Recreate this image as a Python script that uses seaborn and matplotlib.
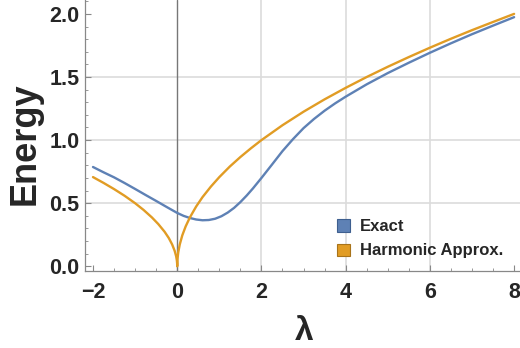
import numpy as np
import pandas as pd
import matplotlib
matplotlib.use("Agg")
import matplotlib.pyplot as plt
from matplotlib.patches import Patch
from matplotlib.ticker import MultipleLocator
import seaborn as sns

# Exact ground-state energy
lam_exact = [-2.0, -1.75, -1.5, -1.25, -1.0, -0.75, -0.5, -0.25, 0.0,
             0.15, 0.3, 0.45, 0.6, 0.75, 0.9, 1.05, 1.2, 1.35, 1.5, 1.65,
             1.8, 2.0, 2.25, 2.5, 2.75, 3.0, 3.25, 3.5, 3.75, 4.0, 4.5,
             5.0, 5.5, 6.0, 6.5, 7.0, 7.5, 8.0]
energy_exact = [0.787, 0.745, 0.705, 0.66, 0.613, 0.565, 0.518, 0.47, 0.423,
                0.40, 0.383, 0.371, 0.365, 0.367, 0.377, 0.397, 0.426, 0.463,
                0.509, 0.561, 0.618, 0.70, 0.806, 0.913, 1.008, 1.095, 1.168,
                1.233, 1.291, 1.344, 1.442, 1.531, 1.613, 1.692, 1.767,
                1.839, 1.907, 1.974]

# Harmonic approximation
lam_harm = [-2.0, -1.75, -1.5, -1.25, -1.0, -0.8, -0.6, -0.45, -0.3, -0.2,
            -0.12, -0.06, -0.025, -0.008, -0.002, 0.0, 0.002, 0.008, 0.025,
            0.06, 0.12, 0.2, 0.3, 0.45, 0.6, 0.8, 1.0, 1.25, 1.5, 1.75, 2.0,
            2.5, 3.0, 3.5, 4.0, 4.5, 5.0, 5.5, 6.0, 6.5, 7.0, 7.5, 8.0]
energy_harm = [0.707, 0.661, 0.612, 0.559, 0.5, 0.447, 0.387, 0.335, 0.274,
               0.224, 0.173, 0.122, 0.079, 0.045, 0.022, 0.0, 0.032, 0.063,
               0.112, 0.173, 0.245, 0.316, 0.387, 0.474, 0.548, 0.632, 0.707,
               0.791, 0.866, 0.935, 1.0, 1.118, 1.225, 1.323, 1.414, 1.5,
               1.581, 1.658, 1.732, 1.803, 1.871, 1.936, 2.0]

series_names = ["Exact", "Harmonic Approx."]
colors = ["#5E81B5", "#E19C24"]
edge_colors = ["#3E5F8F", "#A8731A"]

sns.set_theme(style="white")
plt.rcParams["font.family"] = ["Liberation Sans", "DejaVu Sans"]
plt.rcParams["font.weight"] = "bold"

fig = plt.figure(figsize=(5.2, 3.48), dpi=100)
ax = fig.add_axes([85 / 520, 77 / 348, 435 / 520, 271 / 348])

# grid and origin line
for gx in [2, 4, 6]:
    ax.axvline(gx, color="#dcdcdc", lw=1.2, zorder=0)
for gy in [0.5, 1.0, 1.5]:
    ax.axhline(gy, color="#dcdcdc", lw=1.2, zorder=0)
ax.axvline(0, color="#777777", lw=1.0, zorder=1)

df_exact = pd.DataFrame({"lam": lam_exact, "E": energy_exact})
df_harm = pd.DataFrame({"lam": lam_harm, "E": energy_harm})
sns.lineplot(data=df_exact, x="lam", y="E", color=colors[0], lw=1.7, ax=ax, zorder=3)
sns.lineplot(data=df_harm, x="lam", y="E", color=colors[1], lw=1.7, ax=ax, zorder=3)

ax.set_xlim(-2.19, 8.14)
ax.set_ylim(-0.037, 2.11)

ax.xaxis.set_major_locator(MultipleLocator(2))
ax.xaxis.set_minor_locator(MultipleLocator(0.5))
ax.yaxis.set_major_locator(MultipleLocator(0.5))
ax.yaxis.set_minor_locator(MultipleLocator(0.1))
ax.xaxis.set_major_formatter(plt.FuncFormatter(lambda v, p: f"{v:.0f}".replace("-", "\u2212")))
ax.yaxis.set_major_formatter(plt.FuncFormatter(lambda v, p: f"{v:.1f}"))

ax.tick_params(axis="both", which="both", direction="in", color="#888888",
               bottom=True, left=True, top=False, right=False)
ax.tick_params(axis="both", which="major", length=4.5, width=0.8, labelsize=15.5)
ax.tick_params(axis="both", which="minor", length=2.5, width=0.6)
ax.tick_params(axis="x", which="major", pad=8)
ax.tick_params(axis="y", which="major", pad=4)
for lbl in ax.get_xticklabels() + ax.get_yticklabels():
    lbl.set_fontweight("bold")

for side in ["top", "right"]:
    ax.spines[side].set_visible(False)
for side in ["left", "bottom"]:
    ax.spines[side].set_color("#888888")
    ax.spines[side].set_linewidth(0.9)

ax.set_xlabel("\u03bb", fontsize=24, fontweight="bold", va="center")
ax.set_ylabel("Energy", fontsize=26, fontweight="bold", va="center")
ax.xaxis.set_label_coords(0.503, -0.225)
ax.yaxis.set_label_coords(-0.138, 0.47)

handles = [Patch(facecolor=c, edgecolor=e, linewidth=0.8) for c, e in zip(colors, edge_colors)]
leg = ax.legend(handles, series_names, loc="upper left",
                bbox_to_anchor=(329 / 520, 1 - 211 / 348), bbox_transform=fig.transFigure,
                frameon=False, borderpad=0, handlelength=0.76, handleheight=0.76,
                handletextpad=0.6, labelspacing=0.55,
                prop={"size": 12, "weight": "bold"})

fig.savefig("out.png", dpi=100, facecolor="white")
